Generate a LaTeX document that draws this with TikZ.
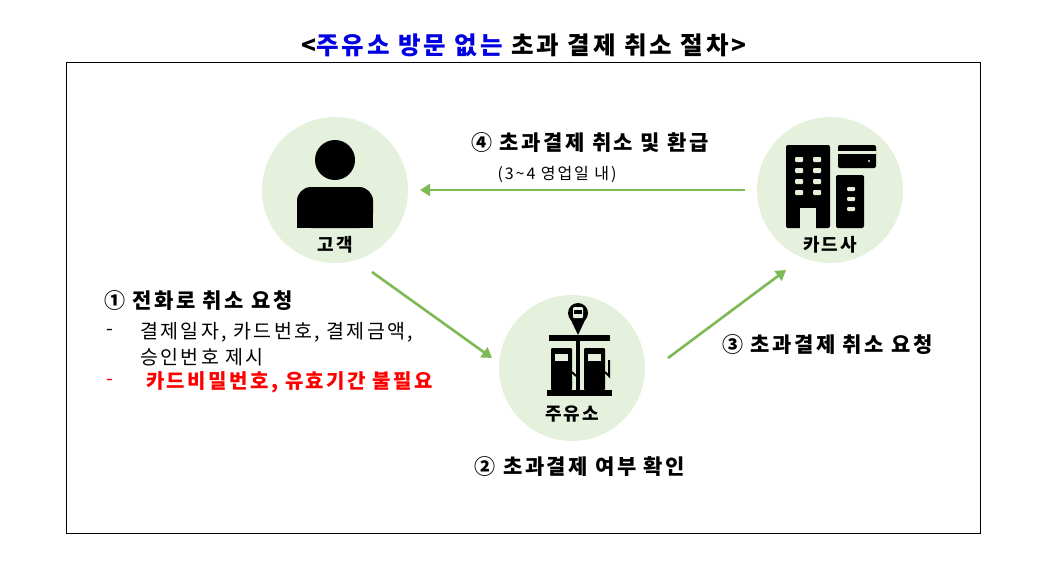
\documentclass[tikz,border=0pt]{standalone}
\usepackage{fontspec}
\setmainfont[LetterSpace=12]{Noto Sans CJK KR}
\usetikzlibrary{arrows.meta}
\definecolor{cfill}{HTML}{E5F1DC}
\definecolor{agreen}{HTML}{7DB955}
\definecolor{tblue}{HTML}{0000E0}
\tikzset{
  bub/.style={circle,fill=cfill,minimum size=146pt,inner sep=0},
  flow/.style={draw=agreen,line width=2.6pt,-{Triangle[length=10pt,width=12pt]}},
  lbl/.style={font=\fontsize{18}{20}\selectfont\bfseries},
  txt/.style={font=\fontsize{19.5}{22}\selectfont,anchor=west,inner sep=0},
  big/.style={font=\fontsize{21}{24}\selectfont\bfseries,inner sep=0},
}
\begin{document}
\begin{tikzpicture}[x=1pt,y=-1pt]
\useasboundingbox[fill=white] (0,0) rectangle (1044,574);
\node[big,font=\fontsize{24.5}{26}\selectfont\bfseries] (title) at (524,45) {<\textcolor{tblue}{주유소 방문 없는} 초과 결제 취소 절차>};
\draw[line width=1pt] (66,62) rectangle (980,533);
\node[bub] (cust) at (335,190) {};
\node[bub] (card) at (830,190) {};
\node[bub] (gas) at (572,368) {};
% person
\fill (335,160) circle (20);
\fill[rounded corners=14pt] (297,228) -- (297,187) -- (373,187) -- (373,228) -- cycle;
\fill (297,210) rectangle (373,228);
\node[lbl] (custl) at (335,245) {고객};
% building
\fill[rounded corners=2pt] (786,145) rectangle (830,228);
\fill[cfill] (800,208) rectangle (816,230);
\foreach \yy in {157,168,179,190}{\fill[cfill,rounded corners=1pt] (795,\yy) rectangle (803,\yy+5);\fill[cfill,rounded corners=1pt] (813,\yy) rectangle (821,\yy+5);}
\fill[rounded corners=2pt] (838,145) rectangle (876,168);
\fill[cfill] (838,151) rectangle (876,154);
\fill[cfill] (869,161) circle (1.2);
\fill[rounded corners=2pt] (836,175) rectangle (864,228);
\foreach \yy in {187,197,207}{\fill[cfill,rounded corners=1pt] (847,\yy) rectangle (855,\yy+4);}
\node[lbl] (cardl) at (830,245) {카드사};
% gas station
\fill (578,313) circle (10);
\fill (570,318) -- (586,318) -- (578,335) -- cycle;
\fill[cfill,rounded corners=1pt] (573,307) rectangle (583,318);
\fill (574,310) rectangle (582,314);
\fill (549,335) rectangle (610,341);
\fill (576,335) rectangle (580,393);
\fill[rounded corners=1pt] (551,348) rectangle (572,390);
\fill[rounded corners=1pt] (584,348) rectangle (605,390);
\fill[cfill] (555,354) rectangle (568,361);
\fill[cfill] (588,354) rectangle (601,361);
\draw[line width=2pt] (572,372) -- (576,376);
\draw[line width=2pt] (605,372) -- (609,376) -- (609,360);
\fill (547,390) rectangle (612,396);
\node[lbl] (gasl) at (572,414) {주유소};
% arrows
\coordinate (a1s) at (745,190);
\coordinate (a1e) at (420,190);
\draw[flow] (a1s) -- (a1e);
\coordinate (a2s) at (372,272);
\coordinate (a2e) at (492,358);
\draw[flow] (a2s) -- (a2e);
\coordinate (a3s) at (668,358);
\coordinate (a3e) at (786,270);
\draw[flow] (a3s) -- (a3e);
% labels
\node[big] (l4) at (590,143) {④ 초과결제 취소 및 환급};
\node[font=\fontsize{16}{18}\selectfont,inner sep=0] (l4b) at (557,174) {(3\textasciitilde4 영업일 내)};
\node[big,anchor=west] (l1) at (104,301) {① 전화로 취소 요청};
\node[txt] (d1) at (106,332) {-};
\node[txt] (t1) at (140,332) {결제일자, 카드번호, 결제금액,};
\node[txt] (t2) at (140,357) {승인번호 제시};
\node[txt,red] (d3) at (106,382) {-};
\node[txt,red,font=\fontsize{20}{22}\selectfont\bfseries] (t3) at (146,382) {카드비밀번호, 유효기간 불필요};
\node[big,anchor=west] (l3) at (722,345) {③ 초과결제 취소 요청};
\node[big] (l2) at (580,467) {② 초과결제 여부 확인};
\end{tikzpicture}
\end{document}
